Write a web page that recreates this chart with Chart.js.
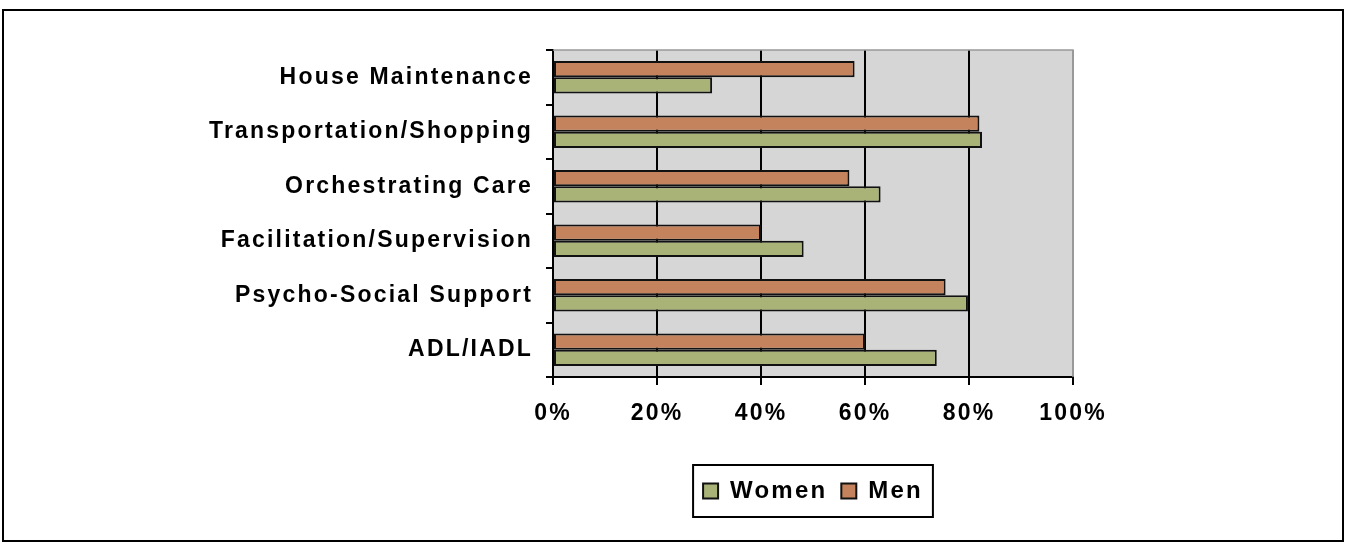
<!DOCTYPE html>
<html>
<head>
    <title>Care Tasks by Gender</title>
    <script src="https://cdn.jsdelivr.net/npm/chart.js"></script>
    <style>
        html, body { margin: 0; padding: 0; background: #fff; }
        #wrap { width: 1346px; height: 542px; }
    </style>
</head>
<body>
    <div id="wrap"><canvas id="barChart"></canvas></div>
    <script>
        var categories = [
            'House Maintenance',
            'Transportation/Shopping',
            'Orchestrating Care',
            'Facilitation/Supervision',
            'Psycho-Social Support',
            'ADL/IADL'
        ];
        var menValues = [58, 82, 57, 40, 75.5, 60];
        var womenValues = [30.6, 82.5, 63, 48.2, 79.8, 73.8];
        var xTicks = [0, 20, 40, 60, 80, 100];

        var fontFamily = "'Liberation Sans', Arial, sans-serif";
        var spacing = '2.2px';

        // grey plot background, plot border, and the outer frame
        var framePlugin = {
            id: 'frame',
            beforeLayout: function (chart) {
                chart.ctx.letterSpacing = spacing;
            },
            beforeDraw: function (chart) {
                var ctx = chart.ctx;
                var a = chart.chartArea;
                ctx.letterSpacing = spacing;
                ctx.save();
                ctx.fillStyle = '#fff';
                ctx.fillRect(0, 0, chart.width, chart.height);
                ctx.fillStyle = '#d6d6d6';
                ctx.fillRect(a.left, a.top, a.right - a.left, a.bottom - a.top);
                ctx.restore();
            },
            afterDatasetsDraw: function (chart) {
                var ctx = chart.ctx;
                var a = chart.chartArea;
                ctx.save();
                ctx.strokeStyle = '#999';
                ctx.lineWidth = 1.5;
                ctx.beginPath();
                ctx.moveTo(a.left, a.top);
                ctx.lineTo(a.right, a.top);
                ctx.lineTo(a.right, a.bottom);
                ctx.stroke();
                ctx.restore();
            },
            afterDraw: function (chart) {
                var ctx = chart.ctx;
                ctx.save();
                ctx.strokeStyle = '#000';
                ctx.lineWidth = 2;
                ctx.strokeRect(3, 10, 1340, 531);

                // box round the legend
                var boxes = chart.legend.legendHitBoxes;
                if (boxes && boxes.length) {
                    var left = Math.min.apply(null, boxes.map(b => b.left));
                    var right = Math.max.apply(null, boxes.map(b => b.left + b.width));
                    var top = Math.min.apply(null, boxes.map(b => b.top));
                    var bottom = Math.max.apply(null, boxes.map(b => b.top + b.height));
                    ctx.strokeRect(left - 10, top - 14, right - left + 20, bottom - top + 28);
                }
                ctx.restore();
            }
        };

        var ctx = document.getElementById('barChart').getContext('2d');
        var barChart = new Chart(ctx, {
            type: 'bar',
            data: {
                labels: categories,
                datasets: [{
                    label: 'Men',
                    data: menValues,
                    backgroundColor: '#c4835d',
                    borderColor: '#111',
                    borderWidth: 2,
                    borderSkipped: false
                }, {
                    label: 'Women',
                    data: womenValues,
                    backgroundColor: '#aab377',
                    borderColor: '#111',
                    borderWidth: 2,
                    borderSkipped: false
                }]
            },
            options: {
                indexAxis: 'y',
                responsive: true,
                maintainAspectRatio: false,
                animation: false,
                categoryPercentage: 0.6,
                barPercentage: 1.0,
                layout: {
                    padding: { left: 0, right: 273, top: 50, bottom: 29 }
                },
                scales: {
                    x: {
                        min: 0,
                        max: 100,
                        afterBuildTicks: function (scale) {
                            scale.ticks = xTicks.map(v => ({ value: v }));
                        },
                        afterFit: function (scale) {
                            scale.height = 88;
                        },
                        ticks: {
                            color: '#000',
                            padding: 15,
                            font: { family: fontFamily, size: 23, weight: 'bold' },
                            callback: function (v) { return v + '%'; }
                        },
                        grid: {
                            color: function (c) { return c.index === xTicks.length - 1 ? '#999' : '#000'; },
                            tickColor: '#000',
                            lineWidth: 2,
                            tickLength: 8
                        },
                        border: { display: true, color: '#000', width: 2 }
                    },
                    y: {
                        afterFit: function (scale) {
                            scale.width = 553;
                        },
                        ticks: {
                            color: '#000',
                            padding: 13,
                            font: { family: fontFamily, size: 23, weight: 'bold' }
                        },
                        grid: {
                            drawOnChartArea: false,
                            drawTicks: true,
                            tickLength: 7,
                            tickColor: '#000',
                            lineWidth: 2
                        },
                        border: { display: true, color: '#000', width: 2 }
                    }
                },
                plugins: {
                    tooltip: { enabled: false },
                    legend: {
                        position: 'bottom',
                        fullSize: false,
                        reverse: true,
                        labels: {
                            color: '#000',
                            boxWidth: 15,
                            boxHeight: 15,
                            padding: 14,
                            font: { family: fontFamily, size: 24, weight: 'bold' }
                        }
                    }
                }
            },
            plugins: [framePlugin]
        });
    </script>
</body>
</html>
